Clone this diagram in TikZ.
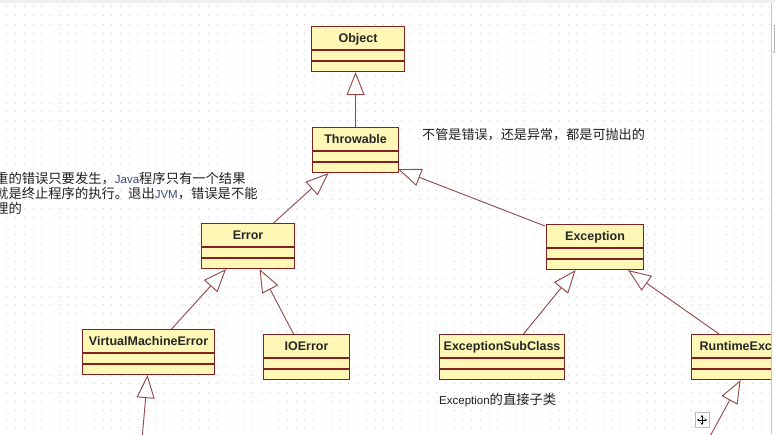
\documentclass[tikz,border=0pt]{standalone}
\usepackage{fontspec}
\setmainfont{Liberation Sans}
\newfontfamily\cjk{Noto Sans CJK SC}
\usetikzlibrary{arrows.meta, positioning, calc}
\definecolor{classfill}{RGB}{255, 247, 181}
\definecolor{classedge}{RGB}{128, 34, 34}
\definecolor{linkred}{RGB}{145, 70, 70}
\definecolor{notegray}{RGB}{30, 30, 30}
\definecolor{javablue}{RGB}{55, 72, 120}
\definecolor{griddot}{RGB}{205, 205, 205}
\newcommand{\lat}[1]{{\rmfamily\fontsize{11.5}{15}\selectfont #1}}

\begin{document}
\begin{tikzpicture}[x=1pt, y=-1pt,
  classbox/.style={draw=classedge, fill=classfill, line width=1.1pt, inner xsep=0pt, inner ysep=0pt,
    text height=16pt, text depth=29pt, font=\fontsize{12.5}{14}\selectfont\bfseries, text=black!85},
  sepline/.style={draw=classedge, line width=1.1pt},
  extends/.style={draw=linkred, line width=0.9pt, -{Triangle[length=23pt, width=18pt, fill=white]}},
  note/.style={anchor=base west, inner sep=0pt, font=\cjk\fontsize{13.3}{15}\selectfont, text=notegray},
  griddots/.style={draw=griddot, line width=1pt, dash pattern=on 1pt off 7.773pt}]
  \useasboundingbox (0,0) rectangle (775,434);

  \begin{scope}
  \clip (0,0) rectangle (771,434);
  % dot grid of the canvas
  \foreach \r in {0,...,48} {
    \draw[griddots] (6.2,6.7+8.773*\r) -- (771,6.7+8.773*\r);
  }

  % classes
  \node[classbox, minimum width=93pt, anchor=north west] (object) at (311,26) {Object};
  \node[classbox, minimum width=86pt, anchor=north west] (throwable) at (312,127) {Throwable};
  \node[classbox, minimum width=93pt, anchor=north west] (error) at (201,223) {Error};
  \node[classbox, minimum width=97pt, anchor=north west] (exception) at (546,224) {Exception};
  \node[classbox, minimum width=132pt, anchor=north west] (vmerror) at (82,329) {VirtualMachineError};
  \node[classbox, minimum width=86pt, anchor=north west] (ioerror) at (263,334) {IOError};
  \node[classbox, minimum width=125pt, anchor=north west] (exsub) at (439,334) {ExceptionSubClass};
  \node[classbox, minimum width=126pt, anchor=north west] (runtime) at (691,334) {RuntimeException};

  % empty attribute and operation parts
  \foreach \c in {object, throwable, error, exception, vmerror, ioerror, exsub, runtime} {
    \draw[sepline] ([yshift=-24pt]\c.north west) -- ([yshift=-24pt]\c.north east);
    \draw[sepline] ([yshift=-35pt]\c.north west) -- ([yshift=-35pt]\c.north east);
  }

  % generalisations
  \coordinate (vmchild) at (142,440);
  \coordinate (rtchild) at (708,440);
  \draw[extends] (throwable.north) -- (throwable.north |- object.south);
  \draw[extends] ([xshift=25.5pt]error.north) -- ([xshift=-27pt]throwable.south);
  \draw[extends] ([xshift=-1pt, yshift=-2pt]exception.north west) -- ([xshift=-1pt, yshift=4pt]throwable.south east);
  \draw[extends] ([xshift=23pt]vmerror.north) -- ([xshift=-22pt]error.south);
  \draw[extends] ([xshift=-13pt]ioerror.north) -- ([xshift=11.5pt]error.south);
  \draw[extends] ([xshift=21.5pt]exsub.north) -- ([xshift=-19.5pt]exception.south);
  \draw[extends] ([xshift=28pt]runtime.north west) -- ([xshift=33pt]exception.south);
  \draw[extends] (vmchild) -- ([xshift=-1pt]vmerror.south);
  \draw[extends] (rtchild) -- ([xshift=-14pt]runtime.south);

  % notes
  \node[note] (errnote1) at (-5,183) {重的错误只要发生，{\color{javablue}\lat{Java}}程序只有一个结果};
  \node[note] (errnote2) at (-5,198) {就是终止程序的执行。退出{\color{javablue}\lat{JVM}}，错误是不能};
  \node[note] (errnote3) at (-5,213) {理的};
  \node[note, font=\cjk\fontsize{13.1}{15}\selectfont] (thrownote) at (422,139) {不管是错误，还是异常，都是可抛出的};
  \node[note] (subnote) at (439,404) {\lat{Exception}的直接子类};

  % move handle
  \node[draw=gray!55, fill=white, line width=0.8pt, minimum width=14pt, minimum height=15pt, inner sep=0pt] (movehandle) at (702,420) {};
  \draw[line width=0.7pt, {Stealth[length=2.5pt, width=3pt]}-{Stealth[length=2.5pt, width=3pt]}]
    ([xshift=-5pt]movehandle.center) -- ([xshift=5pt]movehandle.center);
  \draw[line width=0.7pt, {Stealth[length=2.5pt, width=3pt]}-{Stealth[length=2.5pt, width=3pt]}]
    ([yshift=-5pt]movehandle.center) -- ([yshift=5pt]movehandle.center);
  \end{scope}

  % window edges
  \fill[gray!12] (0,0) rectangle (775,3);
  \draw[gray!45, line width=0.8pt] (771,3) -- (771,434);
  \draw[gray!60, line width=1pt] (772.5,25) -- (774,25) -- (774,52) -- (772.5,52);
\end{tikzpicture}
\end{document}
